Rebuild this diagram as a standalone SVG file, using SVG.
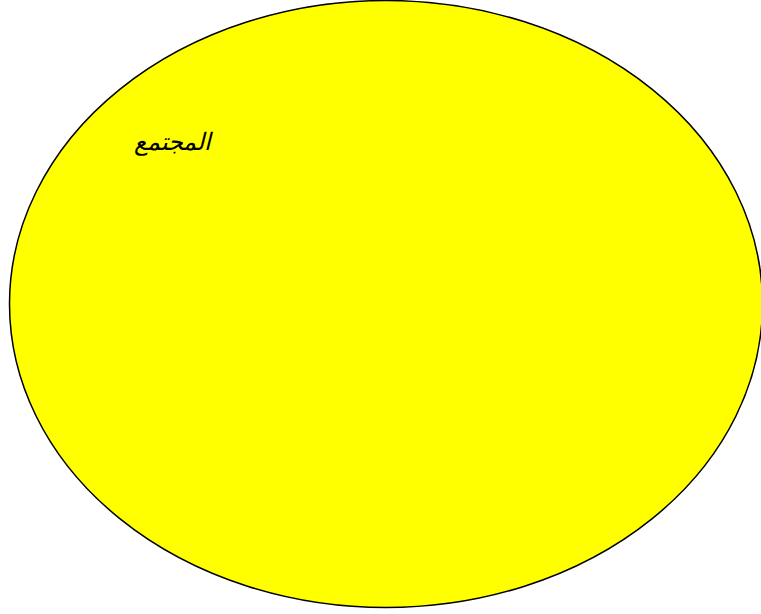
<svg xmlns="http://www.w3.org/2000/svg" width="761" height="614" viewBox="0 0 761 614">
<style>
.n{fill:#ffff00;stroke:#000;stroke-width:1.5}
.t{font-family:"Liberation Serif","DejaVu Sans","Noto Sans",serif;font-size:24px;font-style:italic;fill:#000}
</style>
<rect width="761" height="614" fill="#fff"/>
<g id="community">
<ellipse class="n" cx="386" cy="304" rx="376.5" ry="303.5"/>
<text class="t" x="211" y="150" text-anchor="start" direction="rtl">المجتمع</text>
</g>
<g id="connectors"/>
</svg>
